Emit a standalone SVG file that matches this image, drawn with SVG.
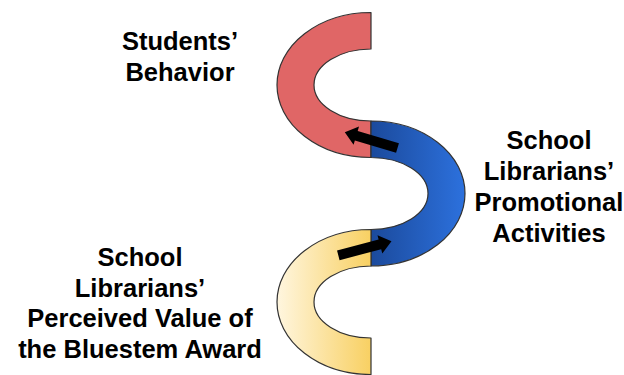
<svg xmlns="http://www.w3.org/2000/svg" xmlns:xlink="http://www.w3.org/1999/xlink" width="624" height="375" viewBox="0 0 624 375">
  <style>
    .lbl { font-family: "Liberation Sans", Arial, sans-serif; font-weight: bold; font-size: 25.5px; fill: #000; text-anchor: middle; }
    .ring { stroke: #333; stroke-width: 1.2; stroke-linejoin: round; }
    .arrow { fill: #000; }
  </style>
  <defs>
    <linearGradient id="gBlue" gradientUnits="userSpaceOnUse" x1="371" y1="0" x2="463" y2="0">
      <stop offset="0" stop-color="#1B4A9C"/>
      <stop offset="1" stop-color="#2C70DC"/>
    </linearGradient>
    <linearGradient id="gYellow" gradientUnits="userSpaceOnUse" x1="277" y1="0" x2="371" y2="0">
      <stop offset="0" stop-color="#FFF6DF"/>
      <stop offset="1" stop-color="#F8D062"/>
    </linearGradient>
    <path id="arr" d="M0,-5 L43,-5 L43,-9.5 L55,0 L43,9.5 L43,5 L0,5 Z"/>
  </defs>

  <g id="node-students-behavior">
    <path class="ring" fill="#E06666" d="M371,12.5 A94,72.5 0 0 0 371,157.5 L371,121 A57,36 0 0 1 371,49 Z"/>
    <text class="lbl" x="180" y="50">Students’</text>
    <text class="lbl" x="180" y="81">Behavior</text>
  </g>

  <g id="node-promotional-activities">
    <path class="ring" fill="url(#gBlue)" d="M371,121 A94,72.5 0 0 1 371,266 L371,229.5 A57,36 0 0 0 371,157.5 Z"/>
    <text class="lbl" x="549" y="149">School</text>
    <text class="lbl" x="549" y="180">Librarians’</text>
    <text class="lbl" x="549" y="211">Promotional</text>
    <text class="lbl" x="549" y="242">Activities</text>
  </g>

  <g id="node-perceived-value">
    <path class="ring" fill="url(#gYellow)" d="M371,229.5 A94,72.5 0 0 0 371,374.5 L371,338 A57,36 0 0 1 371,266 Z"/>
    <text class="lbl" x="140" y="266">School</text>
    <text class="lbl" x="140" y="296.5">Librarians’</text>
    <text class="lbl" x="140" y="327">Perceived Value of</text>
    <text class="lbl" x="140" y="357.5">the Bluestem Award</text>
  </g>

  <g id="connectors">
    <use xlink:href="#arr" class="arrow" transform="translate(397.5,148) rotate(196.6)"/>
    <use xlink:href="#arr" class="arrow" transform="translate(338.3,255.3) rotate(-14.7)"/>
  </g>
</svg>
